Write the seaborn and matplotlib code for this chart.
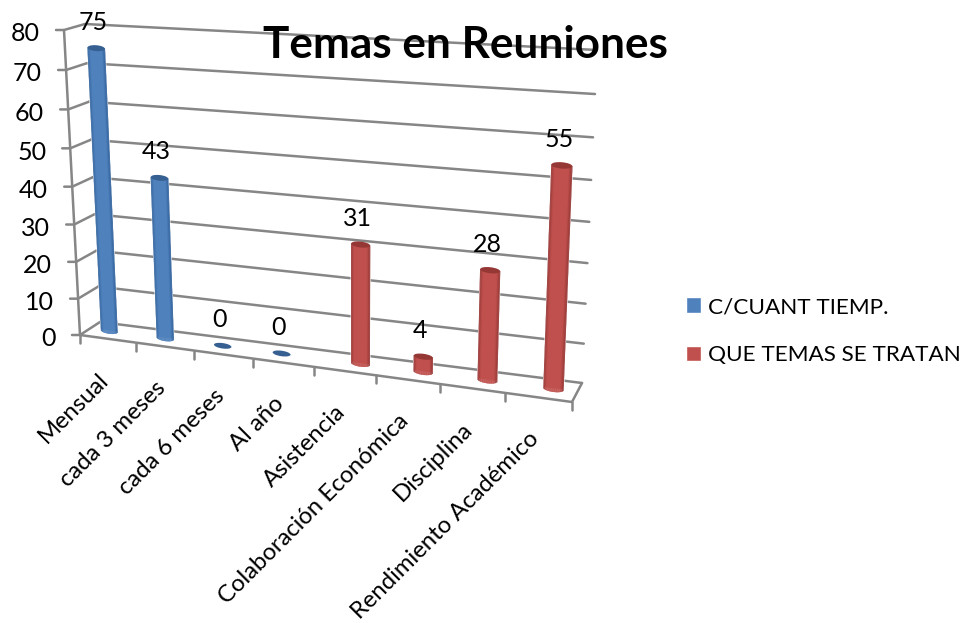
import numpy as np
import pandas as pd
import matplotlib
matplotlib.use('Agg')
import matplotlib.pyplot as plt
import matplotlib.transforms as mtransforms
from matplotlib.patches import Ellipse, Rectangle
import seaborn as sns

categories = ['Mensual', 'cada 3 meses', 'cada 6 meses', 'Al año', 'Asistencia',
              'Colaboración Económica', 'Disciplina', 'Rendimiento Académico']
series_names = ['C/CUANT TIEMP.', 'QUE TEMAS SE TRATAN']
tiempo_cats = categories[:4]
tiempo_vals = [75, 43, 0, 0]
temas_cats = categories[4:]
temas_vals = [31, 4, 28, 55]
y_ticks = [0, 10, 20, 30, 40, 50, 60, 70, 80]

W, H = 962, 623
GRID = '#868686'
colors = ['#4f81bd', '#c0504d']
edge_colors = ['#32629a', '#943836']
cap_colors = ['#376092', '#953735']


class Homography(mtransforms.Transform):
    # unit square -> figure pixels, given the 4 corners (image coords, y down)
    input_dims = 2
    output_dims = 2
    is_separable = False

    def __init__(self, corners):
        super().__init__()
        src = [(0, 0), (1, 0), (1, 1), (0, 1)]
        A, b = [], []
        for (x, y), (px, py) in zip(src, corners):
            py = H - py
            A.append([x, y, 1, 0, 0, 0, -x * px, -y * px])
            A.append([0, 0, 0, x, y, 1, -x * py, -y * py])
            b += [px, py]
        self.m = np.append(np.linalg.solve(np.array(A, float), np.array(b, float)), 1).reshape(3, 3)

    def transform_non_affine(self, values):
        values = np.asarray(values, float)
        pts = np.column_stack([values, np.ones(len(values))]) @ self.m.T
        return pts[:, :2] / pts[:, 2:3]


df = pd.concat([
    pd.DataFrame({'cat': tiempo_cats, 'val': tiempo_vals, 'serie': series_names[0]}),
    pd.DataFrame({'cat': temas_cats, 'val': temas_vals, 'serie': series_names[1]}),
])

sns.set_theme(style='white')
plt.rcParams['font.family'] = ['Lato', 'DejaVu Sans']

fig = plt.figure(figsize=(W / 100, H / 100), dpi=100)
ax = fig.add_axes([0, 0, 1, 1])
sns.barplot(data=df, x='cat', y='val', hue='serie', order=categories, hue_order=series_names,
            palette=colors, saturation=1, width=0.6, dodge=True, errorbar=None, ax=ax)
handles, labels = ax.get_legend_handles_labels()
ax.get_legend().remove()
ax.set_xlim(-0.5, 7.5)
ax.set_ylim(0, 80)
ax.autoscale(False)
ax.axis('off')

base = ax.transScale + ax.transLimits
to_front = base + Homography([(80, 335), (572, 402), (585, 68), (64, 30)])
to_mid = base + Homography([(90, 328.5), (577, 392), (591, 59), (75, 27)])
to_back = base + Homography([(100, 322), (582, 383), (597, 50), (85, 24)])

# back wall gridlines
for v in y_ticks:
    ax.plot([-0.5, 7.5], [v, v], color=GRID, lw=1.8, transform=to_back, clip_on=False, zorder=1)

# side wall + axis
pix = mtransforms.IdentityTransform()
for v in y_ticks:
    a = to_front.transform((-0.5, v))
    b = to_back.transform((-0.5, v))
    ax.plot([a[0] - 8, a[0], b[0]], [a[1], a[1], b[1]], color=GRID, lw=1.8, transform=pix,
            clip_on=False, zorder=1)
    ax.text(a[0] - 24, a[1] - 4, str(v), ha='right', va='center', fontsize=18, color='black',
            transform=pix)
ax.plot([-0.5, -0.5], [0, 80], color=GRID, lw=1.8, transform=to_front, clip_on=False, zorder=1)

# floor
ax.plot([-0.5, 7.5], [0, 0], color=GRID, lw=1.8, transform=to_front, clip_on=False, zorder=1)
a = to_front.transform((7.5, 0))
b = to_back.transform((7.5, 0))
ax.plot([a[0], b[0]], [a[1], b[1]], color=GRID, lw=1.8, transform=pix, clip_on=False, zorder=1)
for i in range(len(categories) + 1):
    a = to_front.transform((i - 0.5, 0))
    ax.plot([a[0], a[0]], [a[1], a[1] - 8], color=GRID, lw=1.8, transform=pix, clip_on=False, zorder=1)

# category labels
for i, cat in enumerate(categories):
    a = to_front.transform((i, 0))
    ax.text(a[0] - 3, a[1] - 38, cat, rotation=45, rotation_mode='anchor', ha='right', va='center',
            fontsize=17.2, color='black', transform=pix)

# cylinders
n_strips = 30
cap_h = 1.5
for k, cont in enumerate(ax.containers):
    c0 = np.array(matplotlib.colors.to_rgb(colors[k]))
    c1 = np.array(matplotlib.colors.to_rgb(edge_colors[k]))
    for bar in cont:
        bar.set_transform(to_mid)
        bar.set_clip_on(False)
        bar.set_zorder(2)
        x0, w, h = bar.get_x(), bar.get_width(), bar.get_height()
        xc = x0 + w / 2
        if h > 0:
            for s in range(n_strips):
                u = (s + 0.5) / n_strips * 2 - 1
                drop = cap_h / 2 * np.sqrt(1 - u * u)
                col = c1 + (c0 - c1) * min(1, (1 - abs(u)) * 3)
                ax.add_patch(Rectangle((x0 + s * w / n_strips, -drop), w / n_strips, h + drop,
                                       facecolor=col, edgecolor=col, lw=0.2, transform=to_mid,
                                       clip_on=False, zorder=3))
        ax.add_patch(Ellipse((xc, h), w, cap_h, facecolor=cap_colors[k], edgecolor='none',
                             transform=to_mid, clip_on=False, zorder=4))
        ax.text(xc, h, f'{h:.0f}', ha='center', va='center', fontsize=18, color='black',
                transform=to_mid + mtransforms.Affine2D().translate(-3, 26), zorder=5)

fig.text(465 / W, 1 - 45 / H, 'Temas en Reuniones', ha='center', va='center', fontsize=31.8,
         fontweight='bold', color='black')

ax.legend(handles, labels, loc='upper left', bbox_to_anchor=(686 / W, 1 - 297 / H),
          bbox_transform=fig.transFigure, frameon=False, fontsize=16.2, handlelength=0.67,
          handleheight=0.67, handletextpad=0.32, labelspacing=1.25, borderpad=0, borderaxespad=0,
          labelcolor='black')

fig.savefig('out.png', dpi=100, facecolor='white')
